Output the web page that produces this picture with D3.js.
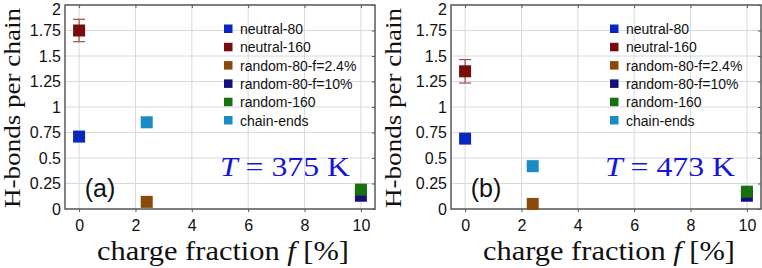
<!DOCTYPE html>
<html>
<head>
<meta charset="utf-8">
<script src="https://cdn.jsdelivr.net/npm/d3@7"></script>
<style>
  body { margin: 0; background: #fff; }
  svg { display: block; }
  .tick-lab { font-family: "Liberation Sans", Arial, sans-serif; font-size: 16px; fill: #111; }
  .leg { font-family: "Liberation Sans", Arial, sans-serif; font-size: 14px; fill: #111; }
  .serif { font-family: "Liberation Serif", "Times New Roman", serif; fill: #111; }
</style>
</head>
<body>
<div id="chart"></div>
<script>
// series, in legend order
let seriesNames = ['neutral-80', 'neutral-160', 'random-80-f=2.4%', 'random-80-f=10%', 'random-160', 'chain-ends'];
let seriesColors = ['#0a25c0', '#780c0c', '#8a4a0c', '#170f7c', '#19700f', '#1a8cc4'];
let chargeFraction = [0, 0, 2.4, 10, 10, 2.4];
// H-bonds per chain at T = 375 K and T = 473 K
let hbonds375 = [0.71, 1.75, 0.07, 0.13, 0.19, 0.85];
let hbonds473 = [0.69, 1.35, 0.05, 0.13, 0.17, 0.42];
let err375 = [0, 0.11, 0, 0, 0, 0];
let err473 = [0, 0.115, 0, 0, 0, 0];
let xTicks = [0, 2, 4, 6, 8, 10];
let yTicks = [0, 0.25, 0.5, 0.75, 1, 1.25, 1.5, 1.75, 2];
let yTickLabels = ['0', '0.25', '0.5', '0.75', '1', '1.25', '1.5', '1.75', '2'];

let svgWidth = 762;
let svgHeight = 268;
let svg = d3.select('#chart').append('svg')
    .attr('width', svgWidth)
    .attr('height', svgHeight);

let panels = [
    { label: '(a)', temp: '375', values: hbonds375, errs: err375, left: 65, right: 375, titleX: 13, legX: 224, labX: 100, tX: 220 },
    { label: '(b)', temp: '473', values: hbonds473, errs: err473, left: 451, right: 761, titleX: 394, legX: 610, labX: 486, tX: 605 }
];

panels.forEach(function (p) { drawPanel(p); });

function drawPanel(p) {
    let top = 5, bottom = 209;
    let x = d3.scaleLinear().domain([-0.5, 10.5]).range([p.left, p.right]);
    let y = d3.scaleLinear().domain([0, 2]).range([bottom, top]);
    let g = svg.append('g');

    // grid
    g.selectAll('.vg').data(xTicks).enter().append('line')
        .attr('x1', d => x(d)).attr('x2', d => x(d))
        .attr('y1', top).attr('y2', bottom)
        .attr('stroke', '#d6dada').attr('stroke-width', 1);
    g.selectAll('.hg').data(yTicks).enter().append('line')
        .attr('x1', p.left).attr('x2', p.right)
        .attr('y1', d => y(d)).attr('y2', d => y(d))
        .attr('stroke', '#d6dada').attr('stroke-width', 1);

    // axes (labels only, frame drawn below)
    let xAxis = g.append('g').attr('transform', 'translate(0,' + bottom + ')')
        .call(d3.axisBottom(x).tickValues(xTicks).tickSize(3).tickPadding(8).tickFormat(d3.format('d')));
    xAxis.select('.domain').remove();
    xAxis.selectAll('line').attr('stroke', '#555');
    xAxis.selectAll('text').attr('class', 'tick-lab').attr('fill', null).style('font-size', '16px');

    let yAxis = g.append('g').attr('transform', 'translate(' + p.left + ',0)')
        .call(d3.axisLeft(y).tickValues(yTicks).tickSize(0).tickPadding(4)
            .tickFormat((d, i) => yTickLabels[i]));
    yAxis.select('.domain').remove();
    yAxis.selectAll('text').attr('class', 'tick-lab').attr('fill', null).style('font-size', '16px');
    // keep the top label inside the page
    yAxis.selectAll('text').filter(d => d === 2).attr('dy', '0.62em');

    // inward ticks on the right and top edges
    let rAxis = g.append('g').attr('transform', 'translate(' + p.right + ',0)')
        .call(d3.axisLeft(y).tickValues(yTicks).tickSize(3).tickFormat(''));
    rAxis.select('.domain').remove();
    rAxis.selectAll('line').attr('stroke', '#555');
    let tAxis = g.append('g').attr('transform', 'translate(0,' + top + ')')
        .call(d3.axisBottom(x).tickValues(xTicks).tickSize(3).tickFormat(''));
    tAxis.select('.domain').remove();
    tAxis.selectAll('line').attr('stroke', '#555');

    // frame
    g.append('rect')
        .attr('x', p.left).attr('y', top)
        .attr('width', p.right - p.left).attr('height', bottom - top)
        .attr('fill', 'none').attr('stroke', '#5a5a5a').attr('stroke-width', 1.5);

    // error bars
    let errData = seriesNames.map((s, i) => ({ i: i, v: p.values[i], e: p.errs[i] })).filter(d => d.e > 0);
    errData.forEach(function (d) {
        let cx = x(chargeFraction[d.i]);
        let c = '#a84848';
        g.append('line').attr('x1', cx).attr('x2', cx)
            .attr('y1', y(d.v - d.e)).attr('y2', y(d.v + d.e)).attr('stroke', c).attr('stroke-width', 1.2);
        [d.v - d.e, d.v + d.e].forEach(function (yy) {
            g.append('line').attr('x1', cx - 6).attr('x2', cx + 6)
                .attr('y1', y(yy)).attr('y2', y(yy)).attr('stroke', c).attr('stroke-width', 1.2);
        });
    });

    // markers
    let ms = 12;
    g.selectAll('.pt').data(seriesNames).enter().append('rect')
        .attr('x', (d, i) => x(chargeFraction[i]) - ms / 2)
        .attr('y', (d, i) => y(p.values[i]) - ms / 2)
        .attr('width', ms).attr('height', ms)
        .attr('fill', (d, i) => seriesColors[i]);

    // legend
    let leg = g.append('g').attr('transform', 'translate(' + p.legX + ',29)');
    seriesNames.forEach(function (s, i) {
        leg.append('rect').attr('x', 0).attr('y', i * 18.3 - 4.5)
            .attr('width', 8.5).attr('height', 8.5).attr('fill', seriesColors[i]);
        leg.append('text').attr('class', 'leg').attr('x', 16).attr('y', i * 18.3 + 5).text(s);
    });

    // panel label
    g.append('text').attr('x', p.labX).attr('y', 197)
        .attr('text-anchor', 'middle')
        .style('font-family', '"Liberation Sans", Arial, sans-serif')
        .style('font-size', '25px').attr('fill', '#111').text(p.label);

    // temperature
    let t = g.append('text').attr('class', 'serif').attr('x', p.tX).attr('y', 176)
        .attr('textLength', 130).attr('lengthAdjust', 'spacingAndGlyphs')
        .style('font-size', '27px').style('fill', '#1515d8');
    t.append('tspan').style('font-style', 'italic').text('T');
    t.append('tspan').text(' = ' + p.temp + ' K');

    // axis titles
    g.append('text').attr('class', 'serif')
        .attr('transform', 'translate(' + (p.titleX + 7) + ',' + ((top + bottom) / 2 + 1) + ') rotate(-90)')
        .attr('text-anchor', 'middle')
        .attr('textLength', 200).attr('lengthAdjust', 'spacingAndGlyphs')
        .style('font-size', '24px').text('H-bonds per chain');

    let xt = g.append('text').attr('class', 'serif')
        .attr('x', (p.left + p.right) / 2 + 3).attr('y', 260)
        .attr('text-anchor', 'middle')
        .attr('textLength', 252).attr('lengthAdjust', 'spacingAndGlyphs')
        .style('font-size', '28px');
    xt.append('tspan').text('charge fraction ');
    xt.append('tspan').style('font-style', 'italic').text('f');
    xt.append('tspan').text('  [%]');
}
</script>
</body>
</html>
